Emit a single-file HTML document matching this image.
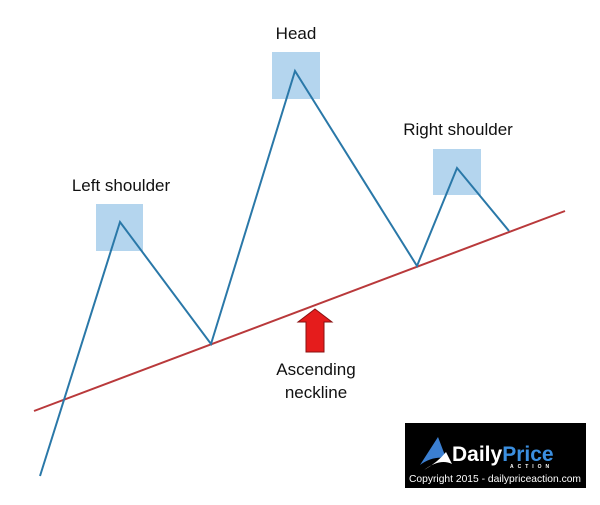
<!DOCTYPE html>
<html><head><style>
body{margin:0;width:600px;height:500px;background:#fff;overflow:hidden;font-family:"Liberation Sans",Arial,sans-serif}
</style></head><body>
<svg width="600" height="500" viewBox="0 0 600 500">
<rect x="96" y="204" width="47" height="47" fill="#b4d5ee"/>
<rect x="272" y="52" width="48" height="47" fill="#b4d5ee"/>
<rect x="433" y="149" width="48" height="46" fill="#b4d5ee"/>
<line x1="34" y1="411" x2="565" y2="211" stroke="#b9393b" stroke-width="2"/>
<polyline points="40,476 120,222 211,344 295,71 417,266 457,168 509,231" fill="none" stroke="#2a78a8" stroke-width="2"/>
<polygon points="315,309 332,322 324,322 324,352 306,352 306,322 298,322" fill="#e51c1c" stroke="#8a1010" stroke-width="1"/>
<g font-size="17" fill="#111" text-anchor="middle">
<text x="121" y="191">Left shoulder</text>
<text x="296" y="39">Head</text>
<text x="458" y="135">Right shoulder</text>
<text x="316" y="375">Ascending</text>
<text x="316" y="398">neckline</text>
</g>
<rect x="405" y="423" width="181" height="65" fill="#000"/>
<path d="M420,465 L438,437 L446,458 Q432,456 420,465Z" fill="#3b7fd1"/>
<path d="M424,470 Q440,458 452,464 L446,452 Q438,462 424,470Z" fill="#fff"/>
<text x="452" y="461" font-size="21" font-weight="bold" fill="#fff">Daily<tspan fill="#3b8fe0">Price</tspan></text>
<text x="510" y="468" font-size="5" font-weight="bold" fill="#fff" letter-spacing="4">ACTION</text>
<text x="495" y="482" font-size="10.5" fill="#fff" text-anchor="middle" textLength="172" lengthAdjust="spacingAndGlyphs">Copyright 2015 - dailypriceaction.com</text>
</svg>
</body></html>
